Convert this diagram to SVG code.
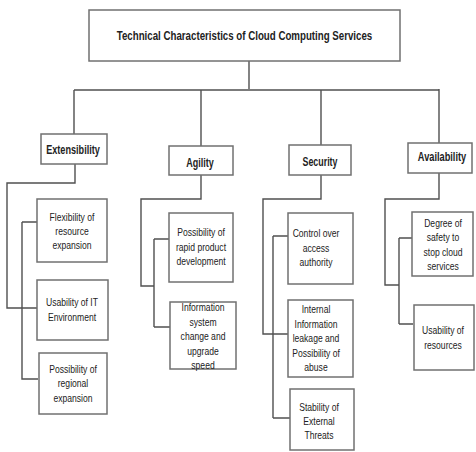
<svg xmlns="http://www.w3.org/2000/svg" width="476" height="452" viewBox="0 0 476 452">
<style>
.box{fill:#fff;stroke:#707070;stroke-width:1.5}
.ln{fill:none;stroke:#505050;stroke-width:1.4}
text{font-family:"Liberation Sans",Arial,sans-serif;fill:#222;text-anchor:middle}
.t0{font-size:12px;font-weight:bold}
.t1{font-size:12px;font-weight:bold}
.t2{font-size:11px}
</style>
<rect width="476" height="452" fill="#fff"/>
<g id="connectors">
<path class="ln" d="M249 61V89M74 90H439M74 90V134M201 90V146M321 90V145M439 89V143"/>
<path class="ln" d="M75 164V183H7V308H37M22 222H37M22 222V379H38"/>
<path class="ln" d="M201 175V199H141V286H154M154 239V327M154 239H169M154 327H170"/>
<path class="ln" d="M321 175V199H263V334H289M273 236V418M273 236H288M273 418H290"/>
<path class="ln" d="M439 173V199H385V285H399M399 238V324M399 238H412M399 324H413"/>
</g>
<g id="root"><rect class="box" x="89" y="10" width="311" height="51"/><text class="t0" transform="translate(244.5 40) scale(0.81 1)" x="0" y="0">Technical Characteristics of Cloud Computing Services</text></g>
<g id="extensibility"><rect class="box" x="41" y="134" width="66" height="30"/><text class="t1" transform="translate(73 154) scale(0.76 1)" x="0" y="0">Extensibility</text></g>
<g id="agility"><rect class="box" x="169" y="146" width="64" height="29"/><text class="t1" transform="translate(200 167) scale(0.75 1)" x="0" y="0">Agility</text></g>
<g id="security"><rect class="box" x="289" y="145" width="62" height="30"/><text class="t1" transform="translate(320 166) scale(0.74 1)" x="0" y="0">Security</text></g>
<g id="availability"><rect class="box" x="408" y="143" width="64" height="30"/><text class="t1" transform="translate(442 161) scale(0.77 1)" x="0" y="0">Availability</text></g>
<g id="flexibility"><rect class="box" x="37" y="199" width="70" height="63"/><text class="t2" transform="translate(72 0) scale(0.78 1)"><tspan x="0" y="221">Flexibility of</tspan><tspan x="0" y="235">resource</tspan><tspan x="0" y="249">expansion</tspan></text></g>
<g id="usability-it"><rect class="box" x="37" y="280" width="71" height="60"/><text class="t2" transform="translate(72 0) scale(0.78 1)"><tspan x="0" y="306">Usability of IT</tspan><tspan x="0" y="321">Environment</tspan></text></g>
<g id="regional"><rect class="box" x="39" y="353" width="68" height="61"/><text class="t2" transform="translate(73 0) scale(0.78 1)"><tspan x="0" y="373">Possibility of</tspan><tspan x="0" y="387">regional</tspan><tspan x="0" y="402">expansion</tspan></text></g>
<g id="rapid"><rect class="box" x="169" y="213" width="64" height="69"/><text class="t2" transform="translate(201 0) scale(0.78 1)"><tspan x="0" y="236">Possibility of</tspan><tspan x="0" y="251">rapid product</tspan><tspan x="0" y="265">development</tspan></text></g>
<g id="infosys"><rect class="box" x="170" y="302" width="66" height="67"/><text class="t2" transform="translate(203 0) scale(0.78 1)"><tspan x="0" y="311">Information</tspan><tspan x="0" y="326">system</tspan><tspan x="0" y="340">change and</tspan><tspan x="0" y="355">upgrade</tspan><tspan x="0" y="369">speed</tspan></text></g>
<g id="control"><rect class="box" x="288" y="213" width="65" height="71"/><text class="t2" transform="translate(316 0) scale(0.78 1)"><tspan x="0" y="237">Control over</tspan><tspan x="0" y="252">access</tspan><tspan x="0" y="266">authority</tspan></text></g>
<g id="internal"><rect class="box" x="288" y="300" width="65" height="77"/><text class="t2" transform="translate(316 0) scale(0.78 1)"><tspan x="0" y="313">Internal</tspan><tspan x="0" y="328">Information</tspan><tspan x="0" y="342">leakage and</tspan><tspan x="0" y="357">Possibility of</tspan><tspan x="0" y="371">abuse</tspan></text></g>
<g id="stability"><rect class="box" x="290" y="389" width="64" height="61"/><text class="t2" transform="translate(319 0) scale(0.78 1)"><tspan x="0" y="411">Stability of</tspan><tspan x="0" y="425">External</tspan><tspan x="0" y="439">Threats</tspan></text></g>
<g id="safety"><rect class="box" x="412" y="212" width="61" height="64"/><text class="t2" transform="translate(443 0) scale(0.78 1)"><tspan x="0" y="227">Degree of</tspan><tspan x="0" y="241">safety to</tspan><tspan x="0" y="256">stop cloud</tspan><tspan x="0" y="270">services</tspan></text></g>
<g id="usability-res"><rect class="box" x="414" y="305" width="60" height="65"/><text class="t2" transform="translate(443 0) scale(0.78 1)"><tspan x="0" y="334">Usability of</tspan><tspan x="0" y="349">resources</tspan></text></g>
</svg>
